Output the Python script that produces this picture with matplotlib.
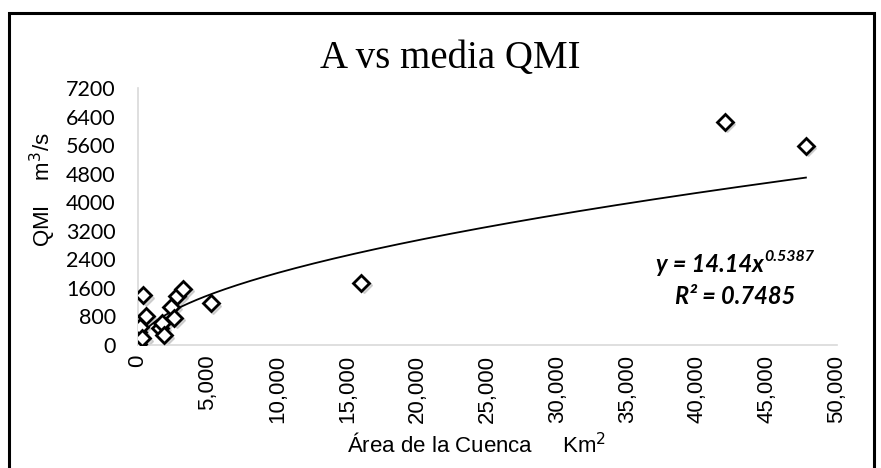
import matplotlib
matplotlib.use('Agg')
import matplotlib.pyplot as plt
import matplotlib.transforms as mtransforms
from matplotlib.patches import Rectangle
from matplotlib.ticker import FuncFormatter, MultipleLocator
import numpy as np

# area de la cuenca (km2) vs QMI medio (m3/s)
area = [20, 30, 140, 310, 380, 550, 1600, 1740, 1860, 2390, 2580, 2815, 3250, 5200, 15970, 41980, 47780]
qmi = [30, 370, 513, 190, 1400, 822, 480, 625, 280, 1065, 765, 1380, 1570, 1168, 1745, 6256, 5575]

coef_a = 14.14
coef_b = 0.5387
r2 = 0.7485

fig = plt.figure(figsize=(8.81, 4.68), dpi=100)
ax = fig.add_axes([0.1566, 0.2628, 0.7934, 0.5492])

# sombra de los marcadores
shadow = mtransforms.offset_copy(ax.transData, fig=fig, x=2.5, y=-2.5, units='dots')
ax.plot(area, qmi, 'D', ms=8.6, mfc='#a8a8a8', mec='#a8a8a8', alpha=0.45,
        transform=shadow, zorder=2)

xs = np.linspace(min(area), max(area), 400)
ax.plot(xs, coef_a * xs ** coef_b, color='black', lw=1.3, zorder=3)

ax.plot(area, qmi, 'D', ms=8, mfc='white', mec='black', mew=2, zorder=4)

ax.set_xlim(0, 50000)
ax.set_ylim(0, 7200)
ax.xaxis.set_major_locator(MultipleLocator(5000))
ax.yaxis.set_major_locator(MultipleLocator(800))
ax.xaxis.set_major_formatter(FuncFormatter(lambda v, p: '{:,.0f}'.format(v)))

for s in ['top', 'right']:
    ax.spines[s].set_visible(False)
for s in ['left', 'bottom']:
    ax.spines[s].set_color('#d9d9d9')
    ax.spines[s].set_linewidth(1.2)

ax.tick_params(axis='both', length=0)
ax.tick_params(axis='y', pad=16)
ax.tick_params(axis='x', pad=7)
for lb in ax.get_yticklabels():
    lb.set_family('Lato')
    lb.set_fontsize(15.5)
for lb in ax.get_xticklabels():
    lb.set_family('Liberation Sans')
    lb.set_fontsize(16)
    lb.set_rotation(90)

ax.set_xlabel('Área de la Cuenca     Km$^2$', family='Liberation Sans',
              fontsize=16, va='center')
ax.xaxis.set_label_coords(0.485, -0.389)
ax.set_ylabel('QMI    m$^3$/s', family='Liberation Sans', fontsize=16, va='center')
ax.yaxis.set_label_coords(-0.136, 0.603)

fig.text(450 / 881, 1 - 58 / 468, 'A vs media QMI', family='Liberation Serif',
         fontsize=28, ha='center', va='center')

eq = ax.text(0.818, 0.315, 'y = 14.14x', transform=ax.transAxes,
             ha='center', va='center', family='Lato', style='italic',
             weight='bold', fontsize=17)
ax.annotate('0.5387', xy=(1, 0.5), xycoords=eq, xytext=(0.5, 0),
            textcoords='offset points', ha='left', va='bottom',
            family='Lato', style='italic', weight='bold', fontsize=11.5)
ax.text(0.855, 0.187, 'R² = 0.7485', transform=ax.transAxes,
        ha='center', va='center', family='Lato', style='italic',
        weight='bold', fontsize=17)

fig.add_artist(Rectangle((9 / 881, -0.05), (874 - 9) / 881, 1.05 - 13 / 468,
                         transform=fig.transFigure, fill=False,
                         edgecolor='black', lw=2.2))

fig.savefig('out.png', dpi=100)
